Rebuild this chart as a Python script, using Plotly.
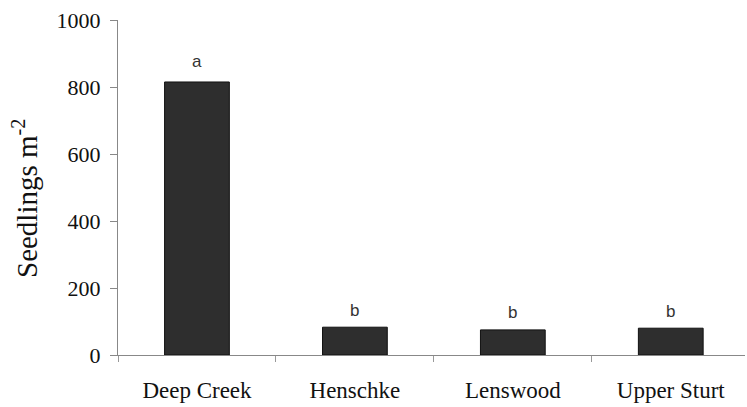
import plotly.graph_objects as go

sites = ["Deep Creek", "Henschke", "Lenswood", "Upper Sturt"]
seedlings = [815, 83, 75, 80]
letters = ["a", "b", "b", "b"]
y_ticks = [0, 200, 400, 600, 800, 1000]
y_title = "Seedlings m<sup>-2</sup>"

SERIF = "Liberation Serif"

fig = go.Figure()
fig.add_trace(go.Bar(
    x=sites, y=seedlings, width=0.41,
    marker=dict(color="#2e2e2e", line=dict(color="#111111", width=1)),
))

for s, v, l in zip(sites, seedlings, letters):
    fig.add_annotation(x=s, y=v, text=l, showarrow=False, yanchor="middle",
                       yshift=20 if v > 500 else 17,
                       font=dict(family="Liberation Sans", size=17, color="#333333"))

# y-axis title as rotated annotation for precise placement
fig.add_annotation(xref="paper", yref="paper", x=(25 - 118) / 627, y=(355 - 198) / 335,
                   text=y_title, textangle=-90, showarrow=False,
                   xanchor="center", yanchor="middle",
                   font=dict(family=SERIF, size=29, color="#111111"))

fig.update_layout(
    width=747, height=407,
    margin=dict(l=118, r=2, t=20, b=52),
    paper_bgcolor="white", plot_bgcolor="white",
    showlegend=False,
    font=dict(family=SERIF, size=22, color="#111111"),
)
fig.update_xaxes(
    type="category", range=[-0.5, 3.47],
    showline=True, linecolor="#888888", linewidth=1,
    ticks="outside", tickson="boundaries", ticklen=6, tickcolor="#999999",
    showgrid=False, zeroline=False,
    tickfont=dict(family=SERIF, size=23, color="#111111"),
    ticklabelstandoff=14,
)
fig.update_yaxes(
    range=[0, 1000], tickvals=y_ticks,
    showline=True, linecolor="#888888", linewidth=1,
    ticks="outside", ticklen=7, tickcolor="#888888",
    showgrid=False, zeroline=False,
    tickfont=dict(family=SERIF, size=22, color="#111111"),
    ticklabelstandoff=5,
)

fig.write_html("out.html")
